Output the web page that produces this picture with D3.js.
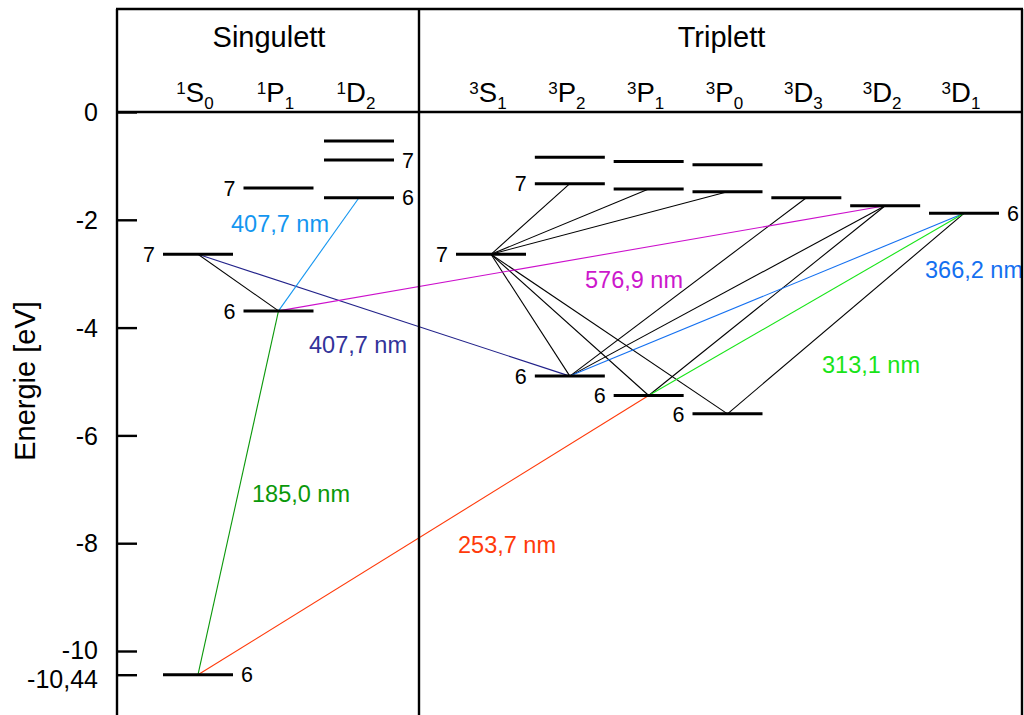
<!DOCTYPE html>
<html>
<head>
<meta charset="utf-8">
<script src="https://cdn.jsdelivr.net/npm/d3@7"></script>
<style>
  html, body { margin: 0; padding: 0; background: #fff; }
  svg { display: block; font-family: "Liberation Sans", Arial, Helvetica, sans-serif; }
</style>
</head>
<body>
<svg id="chart" width="1024" height="715"></svg>
<script>
// Term symbols: multiplicity, orbital letter, J
const singletTerms = ["1S0", "1P1", "1D2"];
const tripletTerms = ["3S1", "3P2", "3P1", "3P0", "3D3", "3D2", "3D1"];

// Energy levels of mercury (eV, relative to the ionisation limit)
const levelTerm = ["1S0", "1S0", "1P1", "1P1", "1D2", "1D2", "1D2",
                   "3S1", "3P2", "3P2", "3P2", "3P1", "3P1", "3P1",
                   "3P0", "3P0", "3P0", "3D3", "3D2", "3D1"];
const levelN    = [6, 7, 6, 7, 6, 7, 8,
                   7, 6, 7, 8, 6, 7, 8,
                   6, 7, 8, 6, 6, 6];
const levelE    = [-10.44, -2.64, -3.69, -1.41, -1.59, -0.89, -0.54,
                   -2.64, -4.90, -1.33, -0.84, -5.26, -1.43, -0.92,
                   -5.60, -1.48, -0.98, -1.59, -1.74, -1.88];

// Principal quantum numbers written beside the levels
const numberedLevels = [
  ["1S0", 7, "left"], ["1S0", 6, "right"],
  ["1P1", 7, "left"], ["1P1", 6, "left"],
  ["1D2", 7, "right"], ["1D2", 6, "right"],
  ["3S1", 7, "left"], ["3P2", 7, "left"], ["3P2", 6, "left"],
  ["3P1", 6, "left"], ["3P0", 6, "left"], ["3D1", 6, "right"]
];

// Transitions: upper level, lower level, wavelength label
const transFrom  = ["1S0:7", "1S0:7", "1D2:6", "1P1:6", "3D2:6", "3P1:6",
                    "3D1:6", "3D1:6", "3D1:6", "3D2:6", "3D2:6", "3D3:6",
                    "3P2:7", "3P1:7", "3P0:7", "3S1:7", "3S1:7", "3S1:7"];
const transTo    = ["1P1:6", "3P2:6", "1P1:6", "1S0:6", "1P1:6", "1S0:6",
                    "3P2:6", "3P1:6", "3P0:6", "3P2:6", "3P1:6", "3P2:6",
                    "3S1:7", "3S1:7", "3S1:7", "3P2:6", "3P1:6", "3P0:6"];
const transLabel = ["", "407,7 nm", "407,7 nm", "185,0 nm", "576,9 nm", "253,7 nm",
                    "366,2 nm", "313,1 nm", "", "", "", "",
                    "", "", "", "", "", ""];

// Axis ticks
const tickValues = [0, -2, -4, -6, -8, -10, -10.44];
const groupTitles = ["Singulett", "Triplett"];
const axisTitle = "Energie [eV]";

// ---------------------------------------------------------------
const W = 1024, H = 715;
const frameLeft = 117, frameRight = 1022, frameTop = 9, divider = 419;
const FONT = '"Liberation Sans", Arial, Helvetica, sans-serif';

const svg = d3.select("#chart");

const y = d3.scaleLinear().domain([0, -10]).range([112, 651]);
const xS = d3.scalePoint().domain(singletTerms).range([198, 359]);
const xT = d3.scalePoint().domain(tripletTerms).range([491, 964]);
const xTerm = t => (t[0] === "1" ? xS(t) : xT(t));

const lineColors = {
  "407,7 nm|1S0:7": "#22228a",
  "407,7 nm|1D2:6": "#1496f0",
  "185,0 nm": "#0a980a",
  "576,9 nm": "#cc10cc",
  "253,7 nm": "#ff3a0a",
  "366,2 nm": "#1470f0",
  "313,1 nm": "#18e418"
};
const textColors = {
  "407,7 nm|1S0:7": "#33339a",
  "407,7 nm|1D2:6": "#1496f0",
  "185,0 nm": "#0a980a",
  "576,9 nm": "#cc18cc",
  "253,7 nm": "#ff3a0a",
  "366,2 nm": "#1470f0",
  "313,1 nm": "#18e418"
};
const colorKey = (label, from) => label === "407,7 nm" ? label + "|" + from : label;

const levels = levelTerm.map((t, i) => ({ term: t, n: levelN[i], E: levelE[i], key: t + ":" + levelN[i] }));
const levelByKey = new Map(levels.map(d => [d.key, d]));

const transitions = transFrom.map((f, i) => ({
  from: levelByKey.get(f), to: levelByKey.get(transTo[i]), label: transLabel[i], fromKey: f
}));

// Transition lines (black ones first, coloured on top)
const ordered = transitions.slice().sort((a, b) => (a.label ? 1 : 0) - (b.label ? 1 : 0));
svg.append("g").attr("class", "transitions")
  .selectAll("line").data(ordered).join("line")
  .attr("x1", d => xTerm(d.from.term)).attr("y1", d => y(d.from.E))
  .attr("x2", d => xTerm(d.to.term)).attr("y2", d => y(d.to.E))
  .attr("stroke", d => d.label ? lineColors[colorKey(d.label, d.fromKey)] : "#000")
  .attr("stroke-width", 1.1);

// Level bars
const halfBar = 35;
svg.append("g").attr("class", "levels")
  .selectAll("line").data(levels).join("line")
  .attr("x1", d => xTerm(d.term) - halfBar).attr("x2", d => xTerm(d.term) + halfBar)
  .attr("y1", d => y(d.E)).attr("y2", d => y(d.E))
  .attr("stroke", "#000").attr("stroke-width", 3);

// Level numbers
svg.append("g").attr("class", "level-numbers")
  .selectAll("text").data(numberedLevels).join("text")
  .attr("x", d => d[2] === "left" ? xTerm(d[0]) - halfBar - 8 : xTerm(d[0]) + halfBar + 8)
  .attr("y", d => y(levelByKey.get(d[0] + ":" + d[1]).E))
  .attr("dy", "0.36em")
  .attr("text-anchor", d => d[2] === "left" ? "end" : "start")
  .attr("font-size", 21.5).attr("fill", "#000")
  .text(d => d[1]);

// Wavelength labels (start x in px, baseline in eV)
const labelAnchor = {
  "407,7 nm|1D2:6": [231, -2.22],
  "407,7 nm|1S0:7": [309, -4.47],
  "185,0 nm": [252, -7.24],
  "253,7 nm": [458, -8.18],
  "576,9 nm": [585, -3.27],
  "366,2 nm": [925, -3.08],
  "313,1 nm": [822, -4.84]
};
svg.append("g").attr("class", "wavelengths")
  .selectAll("text").data(transitions.filter(d => d.label)).join("text")
  .attr("x", d => labelAnchor[colorKey(d.label, d.fromKey)][0])
  .attr("y", d => y(labelAnchor[colorKey(d.label, d.fromKey)][1]))
  .attr("font-size", 23.5)
  .attr("fill", d => textColors[colorKey(d.label, d.fromKey)])
  .text(d => d.label);

// Frame
const frame = svg.append("g").attr("stroke", "#000").attr("stroke-width", 2.4);
frame.append("line").attr("x1", frameLeft - 1).attr("x2", frameRight + 1).attr("y1", frameTop).attr("y2", frameTop);
frame.append("line").attr("x1", frameLeft).attr("x2", frameRight).attr("y1", y(0)).attr("y2", y(0));
frame.append("line").attr("x1", divider).attr("x2", divider).attr("y1", frameTop).attr("y2", H);
frame.append("line").attr("x1", frameRight).attr("x2", frameRight).attr("y1", frameTop).attr("y2", H);

// Energy axis
const axis = d3.axisLeft(y)
  .tickValues(tickValues)
  .tickSizeInner(-20).tickSizeOuter(0).tickPadding(19)
  .tickFormat(v => String(v).replace(".", ","));
const gAxis = svg.append("g").attr("transform", `translate(${frameLeft},0)`).call(axis);
gAxis.select(".domain").remove();
gAxis.selectAll(".tick line").attr("stroke", "#000").attr("stroke-width", 2.4);
gAxis.selectAll(".tick text")
  .attr("font-family", FONT).attr("font-size", 25).attr("fill", "#000")
  .attr("dy", v => v === -10.44 ? "0.52em" : v === -10 ? "0.28em" : "0.35em");
svg.append("line").attr("x1", frameLeft).attr("x2", frameLeft).attr("y1", frameTop).attr("y2", H)
  .attr("stroke", "#000").attr("stroke-width", 2.4);

svg.append("text")
  .attr("transform", "translate(35,381) rotate(-90)")
  .attr("text-anchor", "middle").attr("font-size", 29).attr("fill", "#000")
  .text(axisTitle);

// Group titles
svg.append("g").selectAll("text").data(groupTitles).join("text")
  .attr("x", (d, i) => i === 0 ? (frameLeft + divider) / 2 + 1 : (divider + frameRight) / 2 + 1)
  .attr("y", 47)
  .attr("text-anchor", "middle").attr("font-size", 29).attr("fill", "#000")
  .text(d => d);

// Term symbols with super- and subscripts
const termText = svg.append("g").selectAll("text").data(singletTerms.concat(tripletTerms)).join("text")
  .attr("x", d => xTerm(d) - 3)
  .attr("y", 102)
  .attr("text-anchor", "middle").attr("fill", "#000");
termText.append("tspan").attr("font-size", 17).attr("dy", -8).text(d => d[0]);
termText.append("tspan").attr("font-size", 27.5).attr("dy", 8).text(d => d[1]);
termText.append("tspan").attr("font-size", 17).attr("dy", 7).text(d => d[2]);
</script>
</body>
</html>
